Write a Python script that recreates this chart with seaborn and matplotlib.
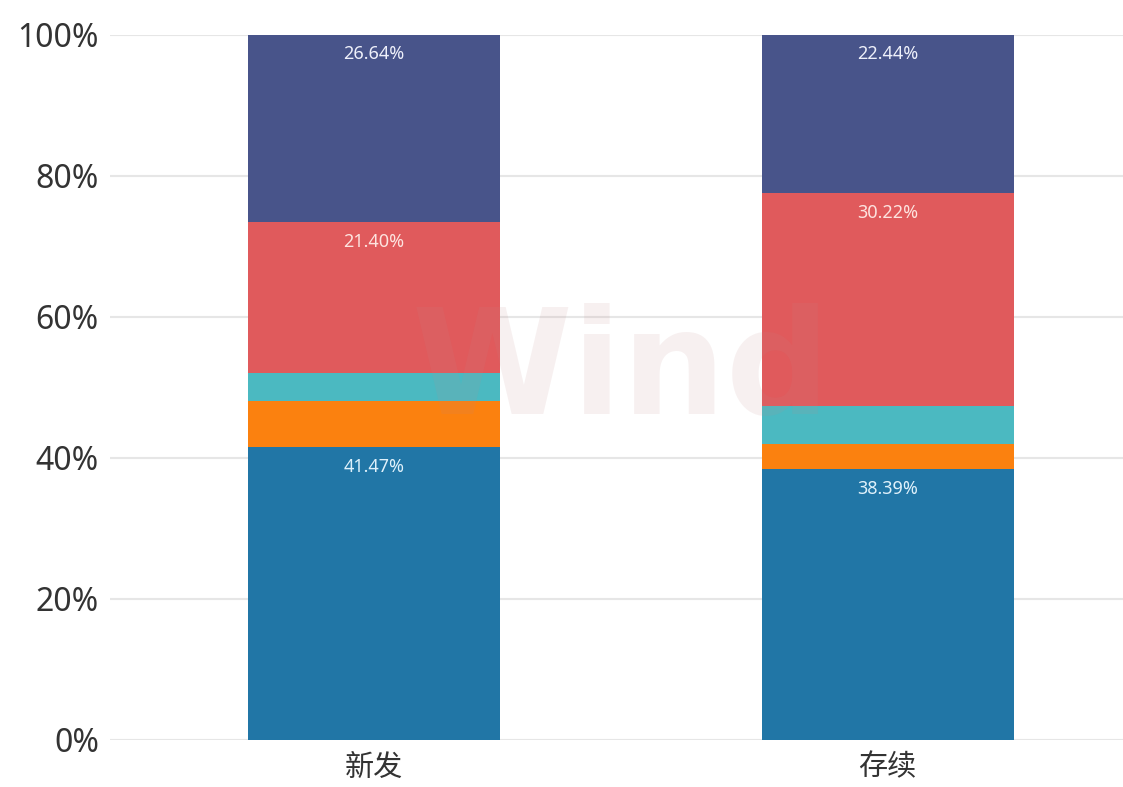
import pandas as pd
import seaborn as sns
import matplotlib
matplotlib.use('Agg')
import matplotlib.pyplot as plt
import numpy as np

# data (percent shares, bottom to top)
categories = ['新发', '存续']
seg_blue = [41.47, 38.39]
seg_orange = [6.60, 3.50]
seg_teal = [3.89, 5.45]
seg_red = [21.40, 30.22]
seg_navy = [26.64, 22.44]

segments = [seg_blue, seg_orange, seg_teal, seg_red, seg_navy]
colors = ['#2176a6', '#fb810f', '#4bb9c1', '#e05a5c', '#48548a']
show_label = [True, False, False, True, True]
label_colors = ['#dff1fb', None, None, '#fde3df', '#eef0fa']

sns.set_theme(style='white')
plt.rcParams['font.family'] = ['Noto Sans', 'Noto Sans CJK SC', 'DejaVu Sans']

fig = plt.figure(figsize=(11.23, 7.87), dpi=100)
ax = fig.add_axes([0.098, 0.06, 0.902, 0.896])

# cumulative tops, draw from the top segment down so lower ones overlay
tops = np.cumsum(np.array(segments), axis=0)
for i in range(len(segments) - 1, -1, -1):
    df = pd.DataFrame({'cat': categories, 'val': tops[i]})
    sns.barplot(data=df, x='cat', y='val', color=colors[i], width=0.49,
                saturation=1, ax=ax, linewidth=0, zorder=2)

# labels near the top of selected segments
for i, seg in enumerate(segments):
    if not show_label[i]:
        continue
    for j, v in enumerate(seg):
        ax.text(j, tops[i][j] - 2.8, f'{v:.2f}%', ha='center', va='center',
                fontsize=13, color=label_colors[i], zorder=3)

# faint watermark
ax.text(0.505, 0.52, 'Wind', transform=ax.transAxes, ha='center', va='center',
        fontsize=105, fontweight='bold', family='DejaVu Sans',
        color='#c08888', alpha=0.12, zorder=4)

ax.set_xlim(-0.513, 1.458)
ax.set_ylim(0, 100)
ax.set_yticks([0, 20, 40, 60, 80, 100])
ax.set_yticklabels([f'{t}%' for t in [0, 20, 40, 60, 80, 100]])
ax.tick_params(axis='y', labelsize=23, labelcolor='#333333', length=0, pad=8)
ax.tick_params(axis='x', labelsize=21, labelcolor='#333333', length=0, pad=10)
ax.set_xlabel('')
ax.set_ylabel('')
ax.grid(axis='y', color='#e6e6e6', linewidth=1.5, zorder=0)
ax.set_axisbelow(True)
for s in ax.spines.values():
    s.set_visible(False)

fig.savefig('out.png', dpi=100)
plt.close(fig)
